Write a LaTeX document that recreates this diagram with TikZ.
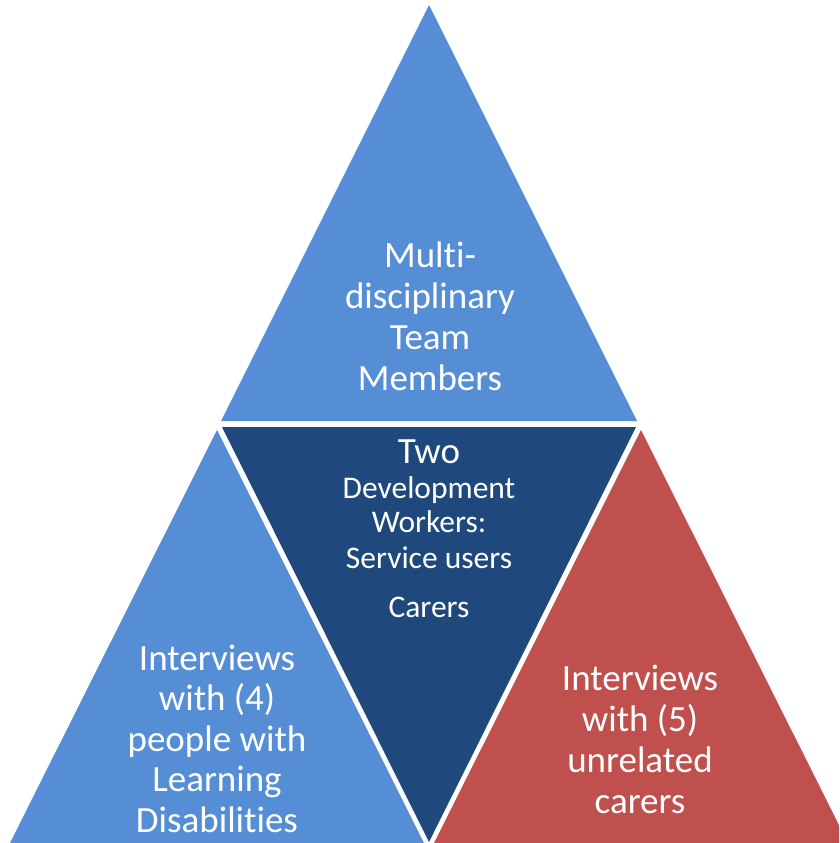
\documentclass[tikz,border=0pt]{standalone}
\usepackage{fontspec}
\setmainfont{Carlito}[Ligatures={NoCommon,NoContextual}]
\definecolor{lightblue}{HTML}{558ED5}
\definecolor{darkblue}{HTML}{1F497D}
\definecolor{redtri}{HTML}{C0504D}
\begin{document}
\begin{tikzpicture}[x=1pt,y=-1pt,
  big/.style={anchor=base,inner sep=0pt,text=white,font=\fontsize{37}{41}\selectfont},
  small/.style={anchor=base,inner sep=0pt,text=white,font=\fontsize{31.5}{35}\selectfont}]
\useasboundingbox (0,0) rectangle (839,843);
\clip (0,0) rectangle (839,843);
% triangles
\fill[lightblue] (429,5) -- (221,421) -- (637,421) -- cycle;
\fill[darkblue] (222,427) -- (636,427) -- (429,842) -- cycle;
\fill[lightblue] (217,430) -- (10,843) -- (424,843) -- cycle;
\fill[redtri] (641,430) -- (434,843) -- (848,843) -- cycle;
% top text
\node[big] (t1) at (430,267) {Mult{}i-};
\node[big] (t2) at (430,308) {disciplinary};
\node[big] (t3) at (430,349) {Team};
\node[big] (t4) at (430,390) {Members};
% middle text
\node[big] (m1) at (429,463) {Two};
\node[small] (m2) at (429,498) {Development};
\node[small] (m3) at (429,532) {Workers:};
\node[small] (m4) at (429,568) {Service users};
\node[small] (m5) at (429,617) {Carers};
% left text
\node[big] (l1) at (217,670) {Interviews};
\node[big] (l2) at (217,710.5) {with (4)};
\node[big] (l3) at (217,751) {people with};
\node[big] (l4) at (217,791.5) {Learning};
\node[big] (l5) at (217,832) {Disabilit{}ies};
% right text
\node[big] (r1) at (640,690) {Interviews};
\node[big] (r2) at (640,731) {with (5)};
\node[big] (r3) at (640,772) {unrelated};
\node[big] (r4) at (640,813) {carers};
\end{tikzpicture}
\end{document}
